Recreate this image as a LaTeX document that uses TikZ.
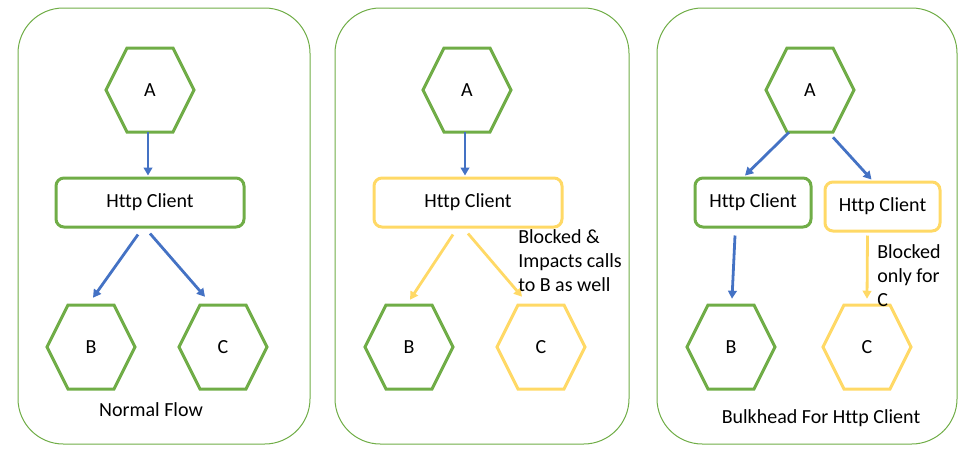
\documentclass[tikz,border=0pt]{standalone}
\usepackage{fontspec}
\setmainfont[Ligatures=NoCommon]{Carlito}
\usetikzlibrary{calc,arrows.meta}
\definecolor{pgreen}{HTML}{70AD47}
\definecolor{pblue}{HTML}{4472C4}
\definecolor{pyellow}{HTML}{FFD966}
\definecolor{ptext}{HTML}{000000}
\newcommand\hexnode[4]{%
  \node[hexbox] (#1) at (#2) {#4};
  \draw[hexline,#3] ($(#1.center)+(-44,0)$) -- ++(21,-42) -- ++(46,0) -- ++(21,42) -- ++(-21,42) -- ++(-46,0) -- cycle;}
\begin{document}
\begin{tikzpicture}[x=0.75pt,y=-0.75pt,
  every node/.style={font=\fontsize{15}{18}\selectfont, text=ptext},
  panel/.style={draw=pgreen, line width=0.75pt, rounded corners=34pt, inner sep=0pt},
  hexbox/.style={rectangle, inner sep=0pt, minimum width=66pt, minimum height=63pt},
  hexline/.style={line width=2.25pt, line join=miter},
  client/.style={draw, line width=2.25pt, rounded corners=6pt, minimum height=36.75pt, inner sep=0pt},
  conn/.style={line width=2.1pt, -{Triangle[length=6pt,width=6.5pt]}},
  note/.style={align=left, anchor=west, inner sep=0pt}]
\useasboundingbox (0,0) rectangle (980,454);
% panels
\node[panel, minimum width=219pt, minimum height=327pt] (p1) at (164,226) {};
\node[panel, minimum width=220.5pt, minimum height=327pt] (p2) at (482,226) {};
\node[panel, minimum width=225pt, minimum height=327pt] (p3) at (807,226) {};
% panel 1
\hexnode{A1}{150,90}{pgreen}{A}
\hexnode{B1}{91,347}{pgreen}{B}
\hexnode{C1}{223,347}{pgreen}{C}
\node[client, draw=pgreen, minimum width=141pt] (c1) at (150,202.5) {Http Client};
\draw[conn, pblue] ($(A1.south)+(-2,0)$) -- ($(c1.north)+(-2,-1)$);
\draw[conn, pblue] ($(c1.south)+(-12,6)$) -- ($(B1.north)+(2,-7)$);
\draw[conn, pblue] ($(c1.south)+(0,5)$) -- ($(C1.north)+(-18,-8)$);
\node (t1) at (151,410) {Normal Flow};
% panel 2
\hexnode{A2}{467,90}{pgreen}{A}
\hexnode{B2}{409,347}{pgreen}{B}
\hexnode{C2}{541,347}{pyellow}{C}
\node[client, draw=pyellow, minimum width=141pt] (c2) at (468,202.5) {Http Client};
\draw[conn, pblue] ($(A2.south)+(-2,0)$) -- ($(c2.north)+(-3,-1)$);
\draw[conn, pyellow] ($(c2.south)+(-15,6)$) -- ($(B2.north)+(1,-5)$);
\draw[conn, pyellow] ($(c2.south)+(0,5)$) -- ($(C2.north)+(-19,-8)$);
\node[note] (t2) at (518,261) {Blocked \&\\Impacts calls\\to B as well};
% panel 3
\hexnode{A3}{810,90}{pgreen}{A}
\hexnode{B3}{731,347}{pgreen}{B}
\hexnode{C3}{867,347}{pyellow}{C}
\node[client, draw=pgreen, minimum width=87pt] (c3a) at (753,202.5) {Http Client};
\node[client, draw=pyellow, minimum width=86.25pt] (c3b) at (882.5,206.5) {Http Client};
\draw[conn, pblue] ($(A3.south)+(-21,0)$) -- ($(c3a.north)+(-8,-1)$);
\draw[conn, pblue] ($(A3.south)+(23,5)$) -- ($(c3b.north)+(-11,-1)$);
\draw[conn, pblue] ($(c3a.south)+(-18,7)$) -- ($(B3.north)+(1,-6)$);
\draw[conn, pyellow] ($(c3b.south)+(-15,3)$) -- ($(C3.north)+(0,-6)$);
\node[note] (t3) at (877,276) {Blocked\\only for\\C};
\node (t4) at (821,418) {Bulkhead For Http Client};
\end{tikzpicture}
\end{document}
